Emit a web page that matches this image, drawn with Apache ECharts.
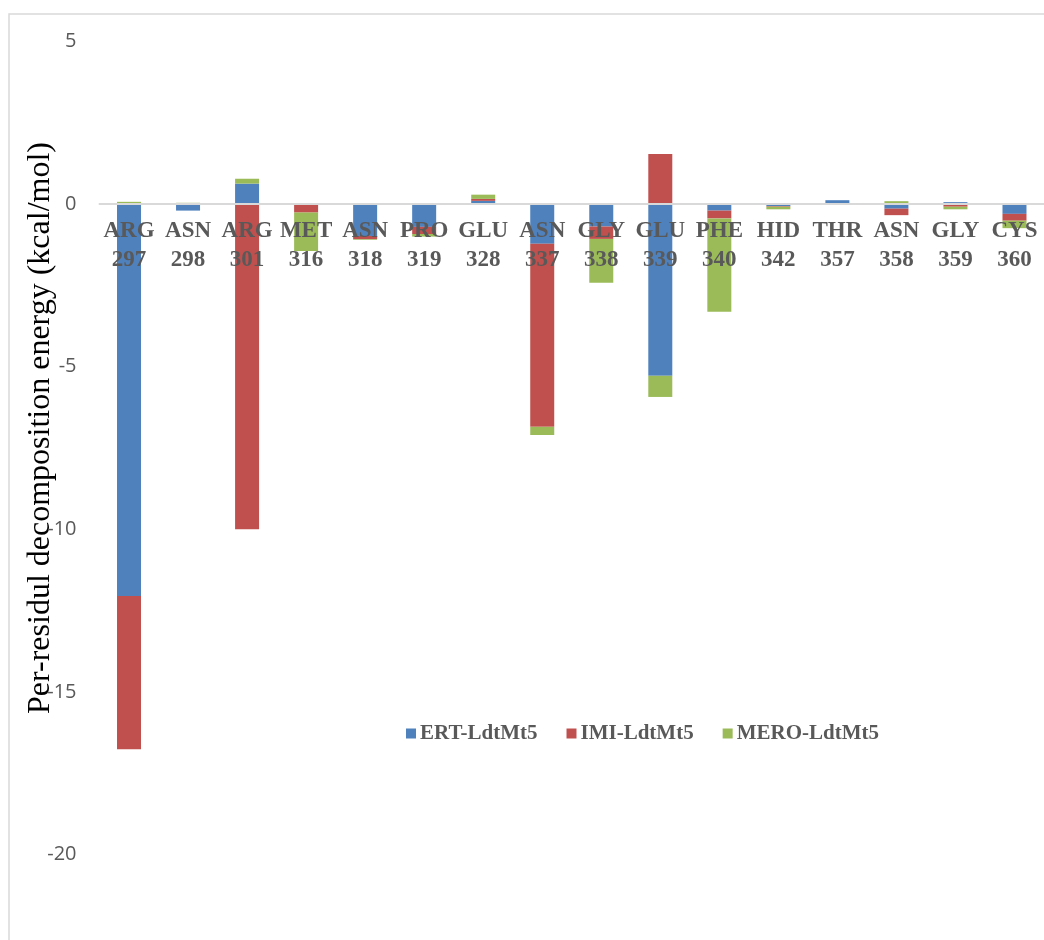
<!DOCTYPE html>
<html>
<head>
<meta charset="utf-8">
<script src="https://cdn.jsdelivr.net/npm/echarts@6/dist/echarts.min.js"></script>
<style>
  html, body { margin: 0; padding: 0; background: #fff; overflow: hidden; }
  #chart { width: 1044px; height: 940px; }
</style>
</head>
<body>
<div id="chart"></div>
<script>
// Residues (name + number) shown on the category axis
const residueNames = ['ARG', 'ASN', 'ARG', 'MET', 'ASN', 'PRO', 'GLU', 'ASN', 'GLY', 'GLU', 'PHE', 'HID', 'THR', 'ASN', 'GLY', 'CYS'];
const residueNumbers = ['297', '298', '301', '316', '318', '319', '328', '337', '338', '339', '340', '342', '357', '358', '359', '360'];

// Per-residue decomposition energies (kcal/mol) for each complex
const ertValues  = [-12.05, -0.2, 0.63, 0, -0.98, -0.7, 0.1, -1.22, -0.69, -5.28, -0.2, -0.06, 0.12, -0.14, 0.06, -0.3];
const imiValues  = [-4.71, 0, -10.0, -0.26, -0.1, -0.22, 0.06, -5.63, -0.38, 1.54, -0.24, -0.02, 0, -0.2, -0.08, -0.21];
const meroValues = [0.07, 0.04, 0.15, -1.18, -0.02, -0.08, 0.13, -0.25, -1.35, -0.65, -2.87, -0.08, 0, 0.09, -0.08, -0.23];

const seriesNames = ['ERT-LdtMt5', 'IMI-LdtMt5', 'MERO-LdtMt5'];
const seriesColors = ['#4F81BD', '#C0504D', '#9BBB59'];

// Y axis range and ticks
const yMin = -20, yMax = 5, yStep = 5;

const categories = residueNames.map((n, i) => n + '\n' + residueNumbers[i]);
const valueSets = [ertValues, imiValues, meroValues];

// Plot area geometry
const gridTop = 41.5, gridBottom = 85.5, chartHeight = 940;
const plotHeight = chartHeight - gridTop - gridBottom;
// Distance from the plot bottom up to the zero line, so the category axis sits at 0
const zeroOffset = -plotHeight * (0 - yMin) / (yMax - yMin);

const chart = echarts.init(document.getElementById('chart'), null, { renderer: 'canvas' });

chart.setOption({
  animation: false,
  backgroundColor: '#ffffff',
  grid: { left: 99.5, width: 949, top: gridTop, bottom: gridBottom, containLabel: false },
  graphic: [
    {
      type: 'rect',
      shape: { x: 9, y: 14, width: 1200, height: 1100 },
      style: { fill: 'none', stroke: '#D9D9D9', lineWidth: 1.5 },
      silent: true, z: -1
    },
    {
      type: 'text',
      x: 41, y: 428,
      rotation: Math.PI / 2,
      style: {
        text: 'Per-residul decomposition energy (kcal/mol)',
        fontFamily: '"Liberation Serif", "Times New Roman", serif',
        fontSize: 32,
        fill: '#000000',
        textAlign: 'center',
        textVerticalAlign: 'middle'
      },
      silent: true
    }
  ],
  legend: {
    data: seriesNames,
    left: 401, top: 718,
    icon: 'rect',
    itemWidth: 10, itemHeight: 10,
    itemGap: 29,
    textStyle: {
      fontFamily: '"Liberation Serif", "Times New Roman", serif',
      fontWeight: 'bold',
      fontSize: 21,
      color: '#595959',
      padding: [0, 0, 0, -1]
    }
  },
  xAxis: {
    type: 'category',
    data: categories,
    z: 3,
    offset: zeroOffset,
    axisLine: { show: true, onZero: false, lineStyle: { color: '#D9D9D9', width: 2 } },
    axisTick: { show: false },
    splitLine: { show: false },
    axisLabel: {
      interval: 0,
      margin: 12,
      fontFamily: '"Liberation Serif", "Times New Roman", serif',
      fontWeight: 'bold',
      fontSize: 23,
      lineHeight: 29,
      color: '#595959'
    }
  },
  yAxis: {
    type: 'value',
    min: yMin, max: yMax, interval: yStep,
    axisLine: { show: false },
    axisTick: { show: false },
    splitLine: { show: false },
    axisLabel: {
      margin: 23,
      fontFamily: '"Open Sans", "Liberation Sans", sans-serif',
      fontSize: 20,
      color: '#595959'
    }
  },
  series: seriesNames.map((name, k) => ({
    name: name,
    type: 'bar',
    stack: 'energy',
    barWidth: 24,
    itemStyle: { color: seriesColors[k] },
    data: valueSets[k]
  }))
});
</script>
</body>
</html>
